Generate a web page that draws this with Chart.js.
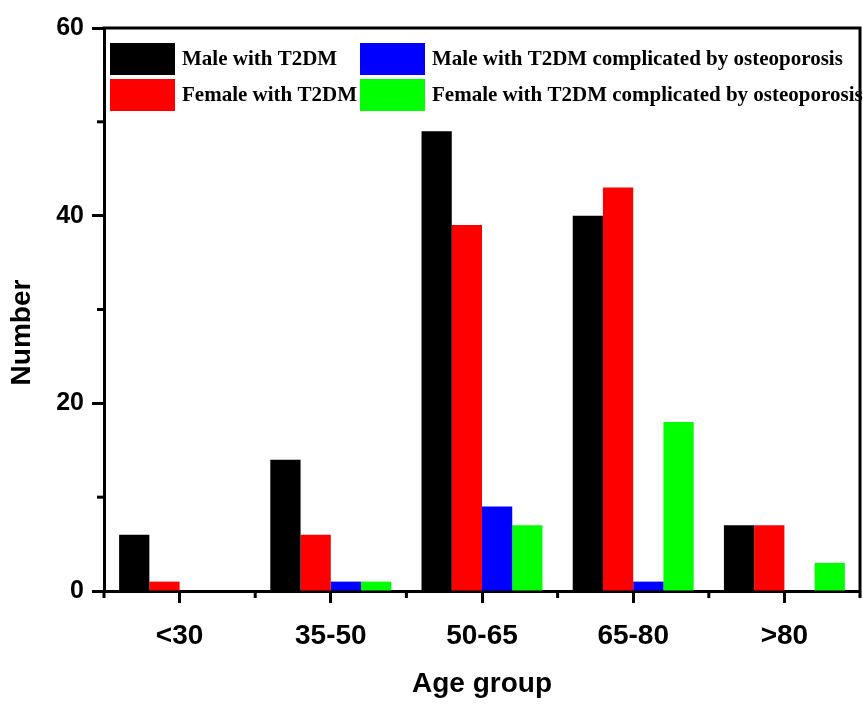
<!DOCTYPE html>
<html>
<head>
<meta charset="utf-8">
<script src="https://cdn.jsdelivr.net/npm/chart.js@4.4.1/dist/chart.umd.min.js"></script>
<style>
  html, body { margin: 0; padding: 0; background: #fff; }
  #wrap { width: 863px; height: 704px; }
</style>
</head>
<body>
<div id="wrap"><canvas id="ageChart"></canvas></div>
<script>
// age groups and counts
const ageGroups = ["<30", "35-50", "50-65", "65-80", ">80"];
const maleT2DM = [6, 14, 49, 40, 7];
const femaleT2DM = [1, 6, 39, 43, 7];
const maleOsteo = [0, 1, 9, 1, 0];
const femaleOsteo = [0, 1, 7, 18, 3];

const seriesNames = [
  "Male with T2DM",
  "Female with T2DM",
  "Male with T2DM complicated by osteoporosis",
  "Female with T2DM complicated by osteoporosis"
];
const seriesColors = ["#000000", "#ff0000", "#0000ff", "#00ff00"];
const yMinorTicks = [10, 30, 50];

const sans = "'Liberation Sans', Arial, sans-serif";
const serif = "'Liberation Serif', 'Times New Roman', serif";

// frame, minor ticks, legend and y title drawn on top of the chart
const extras = {
  id: "extras",
  afterDraw(chart) {
    const { ctx, chartArea: a, scales } = chart;
    ctx.save();
    ctx.strokeStyle = "#000";
    ctx.lineWidth = 3;
    ctx.lineCap = "butt";

    // top + right frame
    ctx.beginPath();
    ctx.moveTo(a.left - 1.5, a.top);
    ctx.lineTo(a.right, a.top);
    ctx.lineTo(a.right, a.bottom);
    ctx.stroke();

    // minor y ticks
    yMinorTicks.forEach(v => {
      const y = scales.y.getPixelForValue(v);
      ctx.beginPath();
      ctx.moveTo(a.left - 7, y);
      ctx.lineTo(a.left, y);
      ctx.stroke();
    });

    // minor x ticks on group boundaries
    const n = ageGroups.length;
    for (let i = 0; i <= n; i++) {
      let x;
      if (i === 0) x = a.left;
      else if (i === n) x = a.right;
      else x = (scales.x.getPixelForTick(i - 1) + scales.x.getPixelForTick(i)) / 2;
      ctx.beginPath();
      ctx.moveTo(x, a.bottom);
      ctx.lineTo(x, a.bottom + 7);
      ctx.stroke();
    }

    // legend, two columns
    const order = [0, 2, 1, 3];
    ctx.font = "bold 21px " + serif;
    ctx.textBaseline = "middle";
    ctx.textAlign = "left";
    order.forEach((ds, k) => {
      const col = k % 2, row = Math.floor(k / 2);
      const bx = a.left + 6 + col * 250;
      const by = a.top + 15 + row * 36;
      ctx.fillStyle = chart.data.datasets[ds].backgroundColor;
      ctx.fillRect(bx, by, 65, 32);
      ctx.fillStyle = "#000";
      ctx.fillText(chart.data.datasets[ds].label, bx + 72, by + 17);
    });

    // y axis title
    ctx.translate(22, a.top + (a.bottom - a.top) / 2 + 23);
    ctx.rotate(-Math.PI / 2);
    ctx.textAlign = "center";
    ctx.font = "bold 28px " + sans;
    ctx.fillText("Number", 0, 0);
    ctx.restore();
  }
};

const datasets = [maleT2DM, femaleT2DM, maleOsteo, femaleOsteo].map((vals, i) => ({
  label: seriesNames[i],
  data: vals,
  backgroundColor: seriesColors[i],
  borderWidth: 0,
  categoryPercentage: 0.8,
  barPercentage: 1.0
}));

new Chart(document.getElementById("ageChart"), {
  type: "bar",
  data: { labels: ageGroups, datasets },
  plugins: [extras],
  options: {
    responsive: true,
    maintainAspectRatio: false,
    animation: false,
    layout: { padding: { top: 28, right: 3, left: 0, bottom: 0 } },
    plugins: {
      legend: { display: false },
      tooltip: { enabled: false }
    },
    scales: {
      x: {
        afterFit: s => { s.height = 113; },
        grid: {
          offset: false,
          drawOnChartArea: false,
          drawTicks: true,
          tickLength: 12,
          tickWidth: 3,
          color: "#000"
        },
        border: { display: true, width: 3, color: "#000" },
        ticks: {
          color: "#000",
          padding: 16,
          font: { family: sans, size: 28, weight: "bold" }
        },
        title: {
          display: true,
          text: "Age group",
          color: "#000",
          padding: { top: 0, bottom: 3 },
          font: { family: sans, size: 28, weight: "bold" }
        }
      },
      y: {
        min: 0,
        max: 60,
        afterFit: s => { s.width = 104; },
        grid: {
          drawOnChartArea: false,
          drawTicks: true,
          tickLength: 12,
          tickWidth: 3,
          color: "#000"
        },
        border: { display: true, width: 3, color: "#000" },
        ticks: {
          stepSize: 20,
          color: "#000",
          padding: 8,
          font: { family: sans, size: 25, weight: "bold" }
        }
      }
    }
  }
});
</script>
</body>
</html>
